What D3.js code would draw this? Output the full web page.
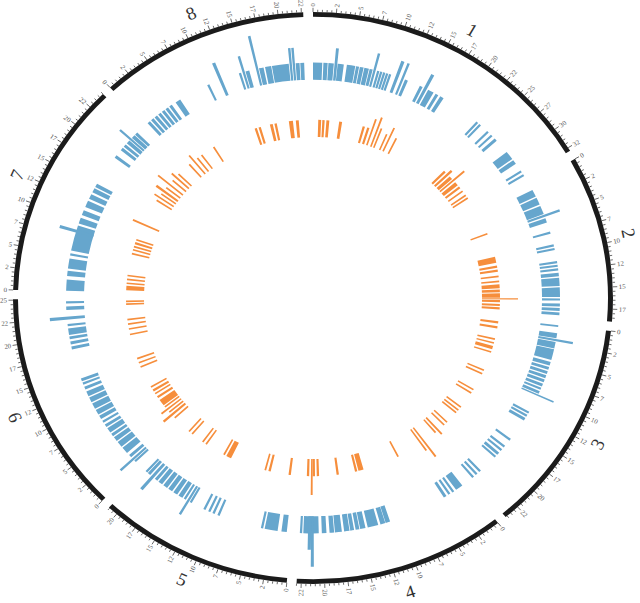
<!DOCTYPE html>
<html>
<head>
<meta charset="utf-8">
<script src="https://cdn.jsdelivr.net/npm/d3@7"></script>
<style>
  body { margin: 0; background: #fff; }
  text { font-family: "Liberation Serif", "DejaVu Serif", serif; }
</style>
</head>
<body>
<div id="circos"></div>
<script>
// chromosomes (layout)
var chromNames = ["1", "2", "3", "4", "5", "6", "7", "8"];
var chromLengths = [32.9, 18.9, 24.2, 23.0, 21.1, 25.1, 24.5, 22.7];

// tick steps (same units as lengths)
var tickStep = 0.5;
var majorEvery = 5;

// outer track (blue): [chromosome, start, end, value]
var blueItems = [
  ["1",0,1.2,1],["1",1.35,1.9,1],["1",2.0,2.7,1],["1",2.8,3.15,1.9],["1",3.2,4.0,1],["1",4.4,5.5,1],
  ["1",5.6,6.0,1],["1",6.1,6.6,1],["1",6.7,7.3,1],["1",7.4,7.8,1],["1",7.9,8.2,2.0],["1",8.4,8.7,1],
  ["1",8.8,9.1,1],["1",9.2,9.5,1],["1",9.6,9.9,1],["1",10.0,10.3,1],["1",10.9,11.3,1.95],["1",11.7,12.0,1.95],
  ["1",12.2,12.6,1],["1",14.3,14.7,1],["1",14.9,15.3,1.9],["1",15.5,16.3,1],["1",16.6,17.0,1],["1",17.3,17.8,1],
  ["1",23.1,23.4,1],["1",23.6,23.9,1],["1",25.0,25.3,1],["1",25.7,26.0,1],["1",26.4,26.8,1],["1",28.8,30.0,1],
  ["1",30.2,30.8,1],["1",31.9,32.2,1],["1",32.5,32.8,1],
  ["2",1.0,2.0,1],["2",2.2,3.2,1],["2",3.4,4.6,1],["2",4.7,5.0,1.9],["2",5.2,5.8,1],["2",7.1,7.4,1],
  ["2",8.9,9.2,1],["2",9.4,9.7,1],["2",11.2,11.5,1],["2",11.7,12.0,1],["2",12.2,12.5,1],["2",12.8,13.3,1],
  ["2",13.5,14.6,1],["2",14.8,16.1,1],["2",16.3,16.6,1],["2",17.0,17.4,1],["2",17.6,18.0,1],["2",18.2,18.6,1],
  ["3",0.0,0.25,1],["3",1.1,1.8,1],["3",1.9,2.2,1.95],["3",2.3,3.2,1],["3",3.3,4.8,1],["3",5.1,5.6,1],
  ["3",5.8,6.2,1],["3",6.4,6.8,1],["3",7.0,7.4,1],["3",7.6,8.0,1],["3",8.2,8.6,1],["3",8.8,9.1,1],
  ["3",9.3,9.7,1],["3",9.8,10.0,1.95],["3",12.4,12.7,1],["3",12.9,13.2,1],["3",13.4,13.8,1],["3",16.8,17.1,1],
  ["3",18.0,18.3,1],["3",18.6,18.9,1],["3",19.2,19.6,1],["3",19.8,20.1,1],["3",22.6,22.9,1],["3",23.2,23.5,1],
  ["3",23.8,24.1,1],
  ["4",0.5,1.5,1],["4",1.8,2.1,1],["4",2.4,2.7,1],["4",3.0,3.4,1],["4",11.1,11.7,1],["4",11.75,12.4,1],
  ["4",12.7,14.1,1],["4",14.4,15.1,1],["4",15.2,15.7,1],["4",15.9,16.4,1],["4",16.5,17.2,1],["4",17.5,18.4,1],
  ["4",18.5,19.1,1],["4",19.5,20.1,1],["4",20.5,22.5,1],["4",21.15,21.5,2.95],["4",21.5,21.9,1.95],
  ["4",22.65,22.95,1],
  ["5",0.6,1.3,1],["5",1.8,3.5,1],["5",3.7,4.0,1],["5",9.6,9.9,1],["5",10.3,10.6,1],["5",10.9,11.2,1],
  ["5",11.6,11.9,1],["5",13.6,13.9,1],["5",14.0,14.3,1.9],["5",14.5,14.8,1],["5",15.0,15.6,1],["5",15.8,16.4,1],
  ["5",16.6,17.2,1],["5",17.4,18.0,1],["5",18.2,18.8,1],["5",19.0,19.4,1],["5",19.6,20.0,1.95],["5",20.2,20.6,1],
  ["5",20.7,21.0,1],
  ["6",0.6,0.9,1],["6",1.0,1.3,1.95],["6",1.5,1.9,1],["6",2.3,3.2,1],["6",3.4,4.2,1],["6",4.4,5.0,1],
  ["6",5.2,5.6,1],["6",5.8,6.5,1],["6",6.7,7.1,1],["6",7.4,7.7,1],["6",8.0,8.5,1],["6",8.7,9.4,1],
  ["6",9.6,10.4,1],["6",10.6,11.3,1],["6",11.5,12.2,1],["6",12.5,12.9,1],["6",13.2,13.5,1],["6",13.7,14.1,1],
  ["6",18.2,18.6,1],["6",18.9,19.3,1],["6",19.6,20.0,1],["6",20.2,21.1,1],["6",21.4,21.7,1],["6",22.3,22.7,1.95],
  ["6",23.6,24.1,1],["6",24.5,24.8,1],
  ["7",0.1,1.6,1],["7",2.1,2.8,1],["7",3.1,4.5,1],["7",4.9,5.2,1],["7",5.6,9.1,1],["7",8.1,8.5,1.95],
  ["7",9.4,10.2,1],["7",10.6,11.3,1],["7",11.8,12.7,1],["7",13.0,13.7,1],["7",14.0,14.6,1],["7",14.8,15.3,1],
  ["7",19.5,19.9,1],["7",20.8,21.2,1],["7",21.4,21.8,1],["7",22.0,22.5,1],["7",22.6,22.9,1.8],["7",23.0,23.5,1],
  ["7",23.6,24.0,1],
  ["8",0.3,0.7,1],["8",0.9,1.3,1],["8",1.5,1.9,1],["8",2.1,2.5,1],["8",2.7,3.1,1],["8",3.3,3.7,1],
  ["8",3.9,4.3,1],["8",4.9,5.6,1],["8",9.6,9.9,1],["8",11.3,11.7,2.05],["8",14.0,14.3,1],["8",14.5,14.8,1.95],
  ["8",14.9,15.4,1],["8",16.3,16.6,2.95],["8",16.7,17.3,1],["8",17.5,18.3,1],["8",18.4,20.6,1],["8",20.7,21.0,1.9],
  ["8",21.1,21.4,1.9],["8",21.5,22.0,1],["8",22.1,22.6,1]
];

// inner track (orange): [chromosome, start, end, value]
var orangeItems = [
  ["1",0.9,1.4,1],["1",1.6,2.0,1],["1",2.3,2.8,1],["1",4.5,5.0,1],["1",8.6,9.0,1],["1",9.4,9.8,1],
  ["1",10.2,10.5,1.6],["1",11.0,11.3,1.8],["1",11.6,11.9,1.2],["1",12.8,13.1,1],["1",13.5,13.8,1.5],["1",14.6,14.9,1],
  ["1",24.8,25.2,1],["1",25.5,25.9,1.3],["1",26.2,26.8,1],["1",27.0,27.3,1.8],["1",27.6,28.3,1],["1",28.6,29.0,1],
  ["1",29.5,29.8,1],["1",30.4,30.7,1],["1",31.0,31.3,1],
  ["2",4.3,4.6,1],["2",8.8,9.9,1],["2",10.4,10.8,1],["2",11.1,11.5,1],["2",12.2,12.5,1],["2",13.1,13.4,1],
  ["2",13.8,14.5,1],["2",14.7,15.2,1],["2",15.4,16.2,1],["2",16.3,16.5,2],["2",16.6,17.0,1],["2",17.3,17.7,1],
  ["2",17.9,18.3,1],
  ["3",0.5,0.9,1],["3",1.4,1.8,1],["3",3.6,3.9,1],["3",4.3,4.6,1],["3",5.0,5.6,1],["3",6.0,6.3,1],
  ["3",9.5,9.8,1],["3",10.2,10.5,1],["3",13.4,13.7,1],["3",14.1,14.4,1],["3",17.2,17.5,1],["3",17.9,18.2,1],
  ["3",18.5,18.8,1],["3",20.8,21.1,1],["3",21.5,21.8,1],["3",22.9,23.2,1.3],["3",23.5,23.8,1],
  ["4",0.8,1.1,2.1],["4",1.4,1.7,1.5],["4",6.0,6.3,1],["4",12.5,13.4,1],["4",13.6,14.0,1],["4",16.8,17.2,1],
  ["4",20.2,20.6,1],["4",20.9,21.3,1],["4",21.3,21.6,2.1],["4",21.9,22.3,1],
  ["5",1.0,1.4,1],["5",4.5,4.9,1],["5",5.3,5.6,1],["5",11.7,12.6,1],["5",12.9,13.2,1],["5",16.5,16.8,1],
  ["5",17.2,17.5,1],["5",19.5,19.8,1],["5",20.2,20.5,1],
  ["6",1.5,1.8,1],["6",2.2,2.6,1.6],["6",2.9,3.2,1],["6",3.5,3.8,1.4],["6",4.1,4.4,1],["6",4.6,5.8,1],
  ["6",6.2,6.6,1],["6",7.0,7.3,1],["6",7.6,8.0,1],["6",8.4,8.7,1],["6",12.4,12.7,1],["6",13.2,13.5,1],
  ["6",14.0,14.3,1],["6",18.5,18.8,1],["6",19.5,19.8,1],["6",20.4,20.7,1],["6",21.2,21.5,1],["6",24.0,24.3,1],
  ["6",24.5,24.8,1],
  ["7",0.5,1.3,1],["7",1.6,1.9,1],["7",2.3,2.6,1],["7",3.0,3.3,1],["7",7.0,7.3,1],["7",7.7,8.0,1],
  ["7",8.3,8.6,1],["7",8.9,9.3,1],["7",9.6,9.9,1],["7",12.6,12.9,1.6],["7",17.5,17.8,1],["7",18.2,18.5,1.3],
  ["7",18.9,19.2,1],["7",19.5,19.9,1.5],["7",20.3,20.6,1],["7",21.1,21.4,1.8],["7",22.0,22.3,1],["7",22.8,23.1,1.3],
  ["7",23.5,23.8,1],
  ["8",0.5,0.8,1],["8",1.5,1.8,1.4],["8",2.3,2.6,1],["8",3.2,3.5,1],["8",5.7,6.0,1],["8",13.6,14.0,1],
  ["8",14.3,14.7,1],["8",16.3,16.8,1],["8",17.1,17.5,1],["8",19.6,20.3,1],["8",20.8,21.3,1]
];

// page / picture
var width = 640, height = 603;
var cx = 313, cy = 298, squash = 0.953; // picture is slightly flattened vertically
var ringInner = 295, ringOuter = 300;
var gapDeg = 1.875;
var labelRadius = 323;

var svg = d3.select("#circos")
  .append("svg")
  .attr("width", width)
  .attr("height", height);

var g = svg.append("g")
  .attr("transform", "translate(" + cx + "," + cy + ") scale(1," + squash + ")");

// layout: one angular scale per chromosome
var degPerUnit = (360 - gapDeg * chromNames.length) / d3.sum(chromLengths);
var chromScales = {};
var acc = 0;
chromNames.forEach(function (name, i) {
  var startDeg = acc, endDeg = acc + chromLengths[i] * degPerUnit;
  chromScales[name] = d3.scaleLinear()
    .domain([0, chromLengths[i]])
    .range([startDeg * Math.PI / 180, endDeg * Math.PI / 180]);
  acc = endDeg + gapDeg;
});

var blocks = chromNames.map(function (name, i) {
  return { name: name, len: chromLengths[i], scale: chromScales[name] };
});

// ring
var ringArc = d3.arc().innerRadius(ringInner).outerRadius(ringOuter);
g.append("g")
  .selectAll("path")
  .data(blocks)
  .enter()
  .append("path")
  .attr("d", function (d) {
    return ringArc({ startAngle: d.scale(0), endAngle: d.scale(d.len) });
  })
  .style("fill", "#1b1b1b");

// ticks
blocks.forEach(function (b) {
  var ticks = d3.range(0, b.len + 1e-9, tickStep).map(function (v, i) {
    return { value: v, angle: b.scale(v), major: i % majorEvery === 0 };
  });
  var tg = g.append("g")
    .selectAll("g")
    .data(ticks)
    .enter()
    .append("g")
    .attr("transform", function (d) {
      return "rotate(" + (d.angle * 180 / Math.PI - 90) + ") translate(" + ringOuter + ",0)";
    });
  tg.append("line")
    .attr("x1", 0)
    .attr("x2", function (d) { return d.major ? 4.5 : 2.5; })
    .style("stroke", "#333")
    .style("stroke-width", 0.7);
  tg.filter(function (d) { return d.major; })
    .append("text")
    .attr("x", 6)
    .attr("dy", ".35em")
    .attr("transform", function (d) {
      return d.angle > Math.PI ? "rotate(180) translate(-12)" : null;
    })
    .style("text-anchor", function (d) { return d.angle > Math.PI ? "end" : null; })
    .style("font-size", "7px")
    .style("fill", "#555")
    .text(function (d) { return Math.floor(d.value); });
});

// chromosome names (turned so the lower half stays readable)
g.append("g")
  .selectAll("text")
  .data(blocks)
  .enter()
  .append("text")
  .attr("transform", function (d) {
    var a = (d.scale(0) + d.scale(d.len)) / 2;
    var deg = a * 180 / Math.PI;
    var x = Math.sin(a) * labelRadius, y = -Math.cos(a) * labelRadius;
    if (deg > 90 && deg < 270) deg -= 180;
    return "translate(" + x + "," + y + ") rotate(" + deg + ")";
  })
  .attr("dy", ".35em")
  .style("text-anchor", "middle")
  .style("font-size", "19px")
  .style("fill", "#333")
  .text(function (d) { return d.name; });

// tracks
function drawTrack(items, r0, r1, color) {
  var radius = d3.scaleLinear().domain([0, 1]).range([r0, r1]);
  var arc = d3.arc()
    .innerRadius(r0)
    .outerRadius(function (d) { return radius(d[3]); })
    .startAngle(function (d) { return chromScales[d[0]](d[1]); })
    .endAngle(function (d) { return chromScales[d[0]](d[2]); });
  g.append("g")
    .selectAll("path")
    .data(items)
    .enter()
    .append("path")
    .attr("d", arc)
    .style("fill", color);
}

drawTrack(blueItems, 229, 247, "#66a6cd");
drawTrack(orangeItems, 169, 187, "#f68e3c");
</script>
</body>
</html>
